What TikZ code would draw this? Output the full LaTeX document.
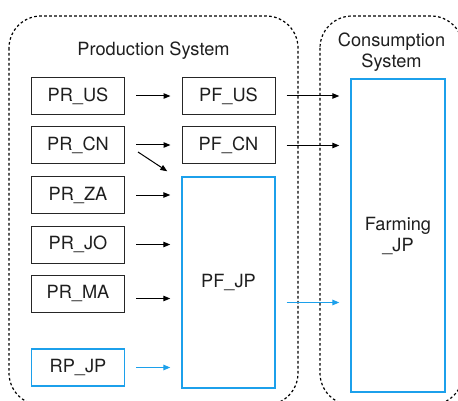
\documentclass[tikz,border=0pt]{standalone}
\usepackage{fontspec}
\usepackage{xcolor}
\usepackage{tikz}
\usetikzlibrary{arrows.meta}
\setmainfont{TeX Gyre Heros}
\definecolor{flowblue}{RGB}{28,160,235}
\definecolor{txtgray}{RGB}{30,30,30}

\begin{document}
\begin{tikzpicture}[x=1pt,y=-1pt]
\tikzstyle{every node}+=[font=\fontsize{18.2}{21}\selectfont,text=txtgray]
\tikzstyle{sysbox}=[draw=black,line width=1.2pt,dash pattern=on 2.6pt off 2.4pt,rounded corners=32pt]
\tikzstyle{cbox}=[draw=black!85,line width=1pt,minimum width=93pt,minimum height=37pt,inner sep=0pt]
\tikzstyle{bbox}=[draw=flowblue,line width=1.4pt,inner sep=0pt,align=center]
\tikzstyle{flow}=[black,line width=1pt,-{Triangle[length=7pt,width=5.5pt]},shorten <=11pt,shorten >=11pt]
\tikzstyle{bflow}=[flow,color=flowblue,line width=1.3pt]
\useasboundingbox (0,0) rectangle (458,401);
\clip (0,0) rectangle (458,401);
\draw [sysbox] (9,16) rectangle (298,405);
\draw [sysbox] (320,16) rectangle (463,405);
\node (prodtitle) at (153.5,51) {Production System};
\node [align=center] (constitle) at (391.5,52) {Consumption\\System};
\node [cbox] (PR_US) at (78,96) {PR\_US};
\node [cbox] (PR_CN) at (78,145) {PR\_CN};
\node [cbox] (PR_ZA) at (78,195) {PR\_ZA};
\node [cbox] (PR_JO) at (78,244.5) {PR\_JO};
\node [cbox] (PR_MA) at (78,293.5) {PR\_MA};
\node [bbox,minimum width=93pt,minimum height=37pt] (RP_JP) at (78,367.5) {RP\_JP};
\node [cbox] (PF_US) at (228.5,96) {PF\_US};
\node [cbox] (PF_CN) at (228.5,145.5) {PF\_CN};
\node [bbox,minimum width=93pt,minimum height=211pt] (PF_JP) at (228.5,282.5) {PF\_JP};
\node [bbox,minimum width=94pt,minimum height=313pt] (Farming_JP) at (398,235.5) {Farming\\\_JP};
\draw [flow] (PR_US.east) -- (PR_US.east -| PF_US.west);
\draw [flow] (PR_CN.east) -- (PR_CN.east -| PF_CN.west);
\draw [flow,shorten <=0pt,shorten >=0pt] ([xshift=13pt,yshift=-7pt]PR_CN.east) -- ([xshift=-14pt,yshift=5pt]PF_JP.north west);
\draw [flow] (PR_ZA.east) -- (PR_ZA.east -| PF_JP.west);
\draw [flow] (PR_JO.east) -- (PR_JO.east -| PF_JP.west);
\draw [flow] ([yshift=-5pt]PR_MA.east) -- ([yshift=-5pt]PR_MA.east -| PF_JP.west);
\draw [bflow] (RP_JP.east) -- (RP_JP.east -| PF_JP.west);
\draw [flow] (PF_US.east) -- (PF_US.east -| Farming_JP.west);
\draw [flow] (PF_CN.east) -- (PF_CN.east -| Farming_JP.west);
\draw [bflow] ([yshift=-20pt]PF_JP.east) -- ([yshift=-20pt]PF_JP.east -| Farming_JP.west);
\end{tikzpicture}
\end{document}
